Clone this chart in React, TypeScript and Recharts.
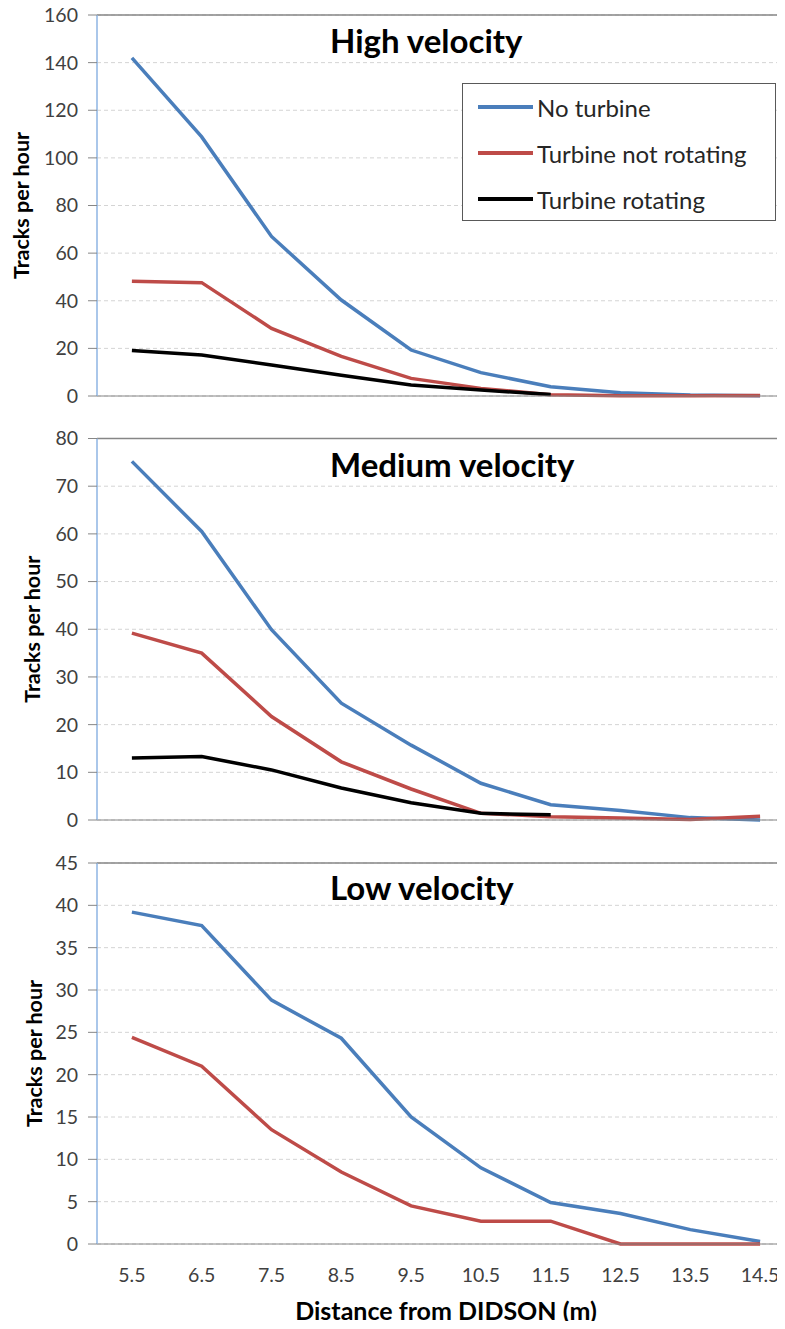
import React from 'react'
import {
    LineChart,
    Line,
    XAxis,
    YAxis,
    CartesianGrid,
    ReferenceLine,
    Legend,
} from 'recharts'

// distance bins (m)
const distances = [5.5, 6.5, 7.5, 8.5, 9.5, 10.5, 11.5, 12.5, 13.5, 14.5]
const binEdges = [5, 6, 7, 8, 9, 10, 11, 12, 13, 14, 15]

const seriesNames = ['No turbine', 'Turbine not rotating', 'Turbine rotating']
const seriesColors = ['#4a7ebb', '#be4b48', '#000000']

// tracks per hour
const highNoTurbine = [142, 108.8, 67, 40.3, 19.3, 9.8, 3.9, 1.4, 0.4, 0.1]
const highNotRotating = [48.2, 47.6, 28.4, 16.6, 7.4, 3.2, 0.5, 0.1, 0.1, 0.2]
const highRotating = [19.1, 17.2, 13, 8.7, 4.6, 2.5, 0.6, null, null, null]

const mediumNoTurbine = [75.2, 60.5, 39.9, 24.5, 15.7, 7.7, 3.2, 2, 0.5, 0]
const mediumNotRotating = [39.2, 35, 21.7, 12.2, 6.5, 1.4, 0.7, 0.4, 0.1, 0.8]
const mediumRotating = [13, 13.3, 10.5, 6.7, 3.6, 1.4, 1.1, null, null, null]

const lowNoTurbine = [39.2, 37.6, 28.8, 24.3, 15, 9, 4.9, 3.6, 1.7, 0.3]
const lowNotRotating = [24.4, 21, 13.5, 8.5, 4.5, 2.7, 2.7, 0, 0, 0]

const highTicks = [0, 20, 40, 60, 80, 100, 120, 140, 160]
const mediumTicks = [0, 10, 20, 30, 40, 50, 60, 70, 80]
const lowTicks = [0, 5, 10, 15, 20, 25, 30, 35, 40, 45]

const FONT = 'Lato, "Open Sans", sans-serif'
const TEXT = '#404040'

const buildRows = (cols: (number | null)[][]) =>
    distances.map((d, i) => {
        const row: Record<string, number | null> = { d }
        cols.forEach((c, j) => {
            row['s' + j] = c[i]
        })
        return row
    })

const renderLegend = (props: any) => (
    <div
        style={{
            width: '100%',
            height: '100%',
            boxSizing: 'border-box',
            border: '1px solid #595959',
            background: '#fff',
            fontFamily: FONT,
        }}
    >
        {(props.payload || []).map((e: any) => (
            <div key={e.value} style={{ display: 'flex', alignItems: 'center', height: 46 }}>
                <span style={{ display: 'inline-block', width: 55, height: 4, marginLeft: 15, background: e.color }} />
                <span style={{ marginLeft: 4, fontSize: 24, color: '#262626' }}>{e.value}</span>
            </div>
        ))}
    </div>
)

interface PanelProps {
    title: string
    titleTop: number
    top: number
    height: number
    marginTop: number
    edgeAxisHeight: number
    yTicks: number[]
    yLabelX: number
    cols: (number | null)[][]
    showXLabels?: boolean
    showLegend?: boolean
}

function Panel({ title, titleTop, top, height, marginTop, edgeAxisHeight, yTicks, yLabelX, cols, showXLabels, showLegend }: PanelProps) {
    const data = buildRows(cols)
    const yMax = yTicks[yTicks.length - 1]

    const yLabel = (p: any) => {
        const vb = p.viewBox
        const cy = vb.y + vb.height / 2
        return (
            <text
                x={yLabelX}
                y={cy}
                transform={`rotate(-90 ${yLabelX} ${cy})`}
                textAnchor="middle"
                dominantBaseline="central"
                style={{ fontFamily: FONT, fontSize: 21.5, fontWeight: 700, fill: '#000' }}
            >
                Tracks per hour
            </text>
        )
    }

    return (
        <div style={{ position: 'absolute', left: 0, top, width: 800, height }}>
            <LineChart width={800} height={height} data={data} margin={{ top: marginTop, right: 5, bottom: 0, left: 0 }}>
                <CartesianGrid vertical={false} stroke="#d4d4d4" strokeDasharray="4 3" />
                <XAxis
                    dataKey="d"
                    type="number"
                    domain={[5, 15]}
                    ticks={binEdges}
                    tick={false}
                    tickSize={8}
                    height={edgeAxisHeight}
                    axisLine={{ stroke: '#868686' }}
                    tickLine={{ stroke: '#868686' }}
                />
                {showXLabels && (
                    <XAxis
                        xAxisId="lab"
                        dataKey="d"
                        type="number"
                        domain={[5, 15]}
                        ticks={distances}
                        tickFormatter={(v: number) => v.toFixed(1)}
                        axisLine={false}
                        tickLine={false}
                        tickSize={0}
                        tickMargin={14}
                        height={75}
                        tick={{ fontSize: 19.5, fill: TEXT, fontFamily: FONT }}
                        label={{
                            value: 'Distance from DIDSON (m)',
                            position: 'insideBottom',
                            offset: 9,
                            style: { fontFamily: FONT, fontSize: 25, fontWeight: 700, fill: '#000' },
                        }}
                    />
                )}
                <YAxis
                    type="number"
                    domain={[0, yMax]}
                    ticks={yTicks}
                    width={97}
                    tickSize={9}
                    tickMargin={10}
                    axisLine={{ stroke: '#8eb4e3', strokeWidth: 1.5 }}
                    tickLine={{ stroke: '#868686' }}
                    tick={{ fontSize: 19.5, fill: TEXT, fontFamily: FONT }}
                    label={{ content: yLabel }}
                />
                <ReferenceLine y={yMax} stroke="#868686" strokeWidth={1.5} />
                {showLegend && (
                    <Legend
                        layout="vertical"
                        align="center"
                        verticalAlign="middle"
                        content={renderLegend}
                        wrapperStyle={{ left: 462, top: 83, width: 314, height: 138 }}
                    />
                )}
                {cols.map((_, j) => (
                    <Line
                        key={j}
                        type="linear"
                        dataKey={'s' + j}
                        name={seriesNames[j]}
                        stroke={seriesColors[j]}
                        strokeWidth={3.5}
                        dot={false}
                        activeDot={false}
                        isAnimationActive={false}
                    />
                ))}
            </LineChart>
            <div
                style={{
                    position: 'absolute',
                    left: 330,
                    top: titleTop - top,
                    fontFamily: FONT,
                    fontSize: 33,
                    fontWeight: 700,
                    color: '#000',
                    whiteSpace: 'nowrap',
                }}
            >
                {title}
            </div>
        </div>
    )
}

export default function App() {
    return (
        <div style={{ position: 'relative', margin: -8, width: 785, height: 1329, overflow: 'hidden', background: '#fff' }}>
            <Panel
                title="High velocity"
                titleTop={20}
                top={0}
                height={420}
                marginTop={15}
                edgeAxisHeight={24}
                yTicks={highTicks}
                yLabelX={21}
                cols={[highNoTurbine, highNotRotating, highRotating]}
                showLegend
            />
            <Panel
                title="Medium velocity"
                titleTop={444}
                top={420}
                height={420}
                marginTop={18.5}
                edgeAxisHeight={20}
                yTicks={mediumTicks}
                yLabelX={32}
                cols={[mediumNoTurbine, mediumNotRotating, mediumRotating]}
            />
            <Panel
                title="Low velocity"
                titleTop={867}
                top={840}
                height={489}
                marginTop={23}
                edgeAxisHeight={10}
                yTicks={lowTicks}
                yLabelX={34}
                cols={[lowNoTurbine, lowNotRotating]}
                showXLabels
            />
        </div>
    )
}
